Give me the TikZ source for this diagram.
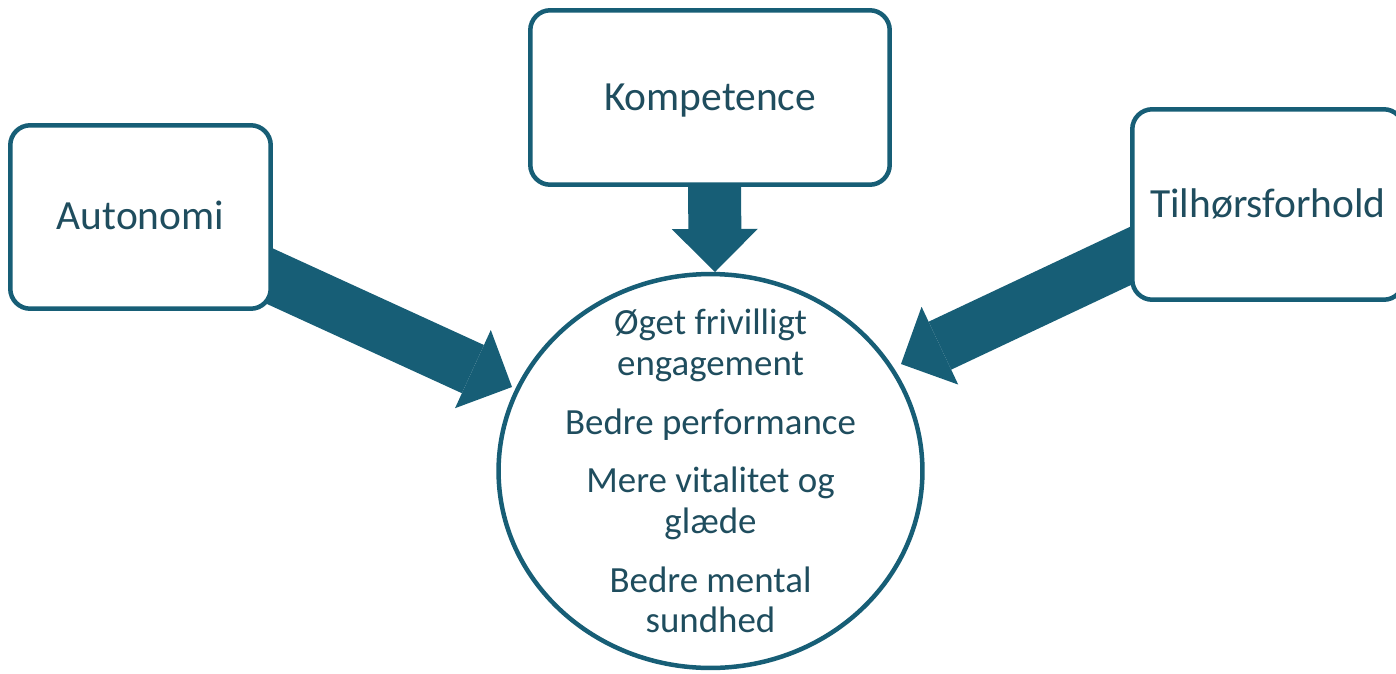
\documentclass[tikz,border=0pt]{standalone}
\usepackage{fontspec}
\setmainfont{Carlito}
\usetikzlibrary{arrows.meta,shapes.geometric,backgrounds,calc}
\definecolor{petrol}{RGB}{23,94,118}
\definecolor{petroltext}{RGB}{31,77,94}

\begin{document}
\begin{tikzpicture}[x=0.02cm, y=-0.02cm]
	\tikzstyle{box}=[draw=petrol, line width=0.09cm, rounded corners=0.4cm, fill=white, text=petroltext, inner sep=0pt, text height=0.5cm, text depth=0pt, font=\fontsize{23.6}{28}\selectfont]
	\tikzstyle{result}=[ellipse, draw=petrol, line width=0.09cm, fill=white, text=petroltext, inner xsep=0pt, inner ysep=-0.5cm, align=center, font=\fontsize{21}{23}\selectfont]
	\tikzstyle{fat}=[petrol, line width=1.06cm, -{Triangle[length=0.86cm, width=1.72cm, line width=0pt]}]
	\useasboundingbox (0,0) rectangle (1396,673);
	\node[box, minimum width=5.21cm, minimum height=3.67cm] (auto) at (140.5,217) {Autonomi};
	\node[box, minimum width=7.19cm, minimum height=3.49cm] (komp) at (710,97.5) {Kompetence};
	\node[box, minimum width=5.43cm, minimum height=3.81cm] (tilh) at (1268,204.5) {Tilhørsforhold};
	\node[result, minimum width=8.48cm, minimum height=7.88cm] (udb) at (710.5,471)
		{Øget frivilligt\\engagement\\[10.5pt]Bedre performance\\[10.5pt]Mere vitalitet og\\glæde\\[10.5pt]Bedre mental\\sundhed};
	\coordinate (autotip) at (512,387);
	\coordinate (komptip) at (715,272);
	\coordinate (tilhtip) at (901,364);
	\begin{pgfonlayer}{background}
		\draw[fat] ($(auto.east)+(-27.5,48)$) -- (autotip);
		\draw[fat] ($(komp.south)+(4.5,-25)$) -- (komptip);
		\draw[fat] ($(tilh.west)+(24,40.3)$) -- (tilhtip);
	\end{pgfonlayer}
\end{tikzpicture}
\end{document}
